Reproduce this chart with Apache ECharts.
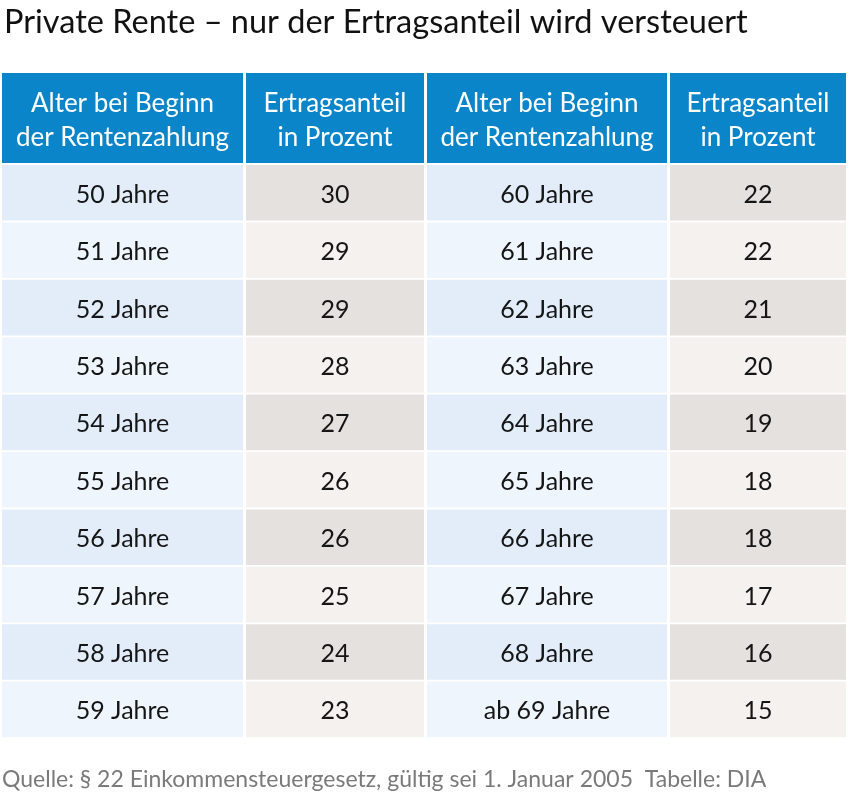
<!DOCTYPE html>
<html><head><meta charset="utf-8">
<script src="https://cdn.jsdelivr.net/npm/echarts@6/dist/echarts.min.js"></script>
<style>html,body{margin:0;padding:0;background:#fff}#c{width:850px;height:795px}</style>
</head><body><div id="c"></div>
<script>
// ---- data ----
const headerAge = 'Alter bei Beginn\nder Rentenzahlung';
const headerShare = 'Ertragsanteil\nin Prozent';
const agesLeft = ['50 Jahre','51 Jahre','52 Jahre','53 Jahre','54 Jahre','55 Jahre','56 Jahre','57 Jahre','58 Jahre','59 Jahre'];
const shareLeft = [30,29,29,28,27,26,26,25,24,23];
const agesRight = ['60 Jahre','61 Jahre','62 Jahre','63 Jahre','64 Jahre','65 Jahre','66 Jahre','67 Jahre','68 Jahre','ab 69 Jahre'];
const shareRight = [22,22,21,20,19,18,18,17,16,15];
const titleText = 'Private Rente – nur der Ertragsanteil wird versteuert';
const sourceText = 'Quelle: § 22 Einkommensteuergesetz, gültig sei 1. Januar 2005  Tabelle: DIA';

// ---- layout ----
const colSpans = [[2,243],[246,424],[427,667],[670,846]];
const headerSpan = [73,163];
const rowTop0 = 165, rowStep = 57.4, rowH = 55.6;
const FONT = 'Lato, "Open Sans", sans-serif';

const cells = [];
const columns = [
  {h: headerAge, v: agesLeft, kind: 'age'},
  {h: headerShare, v: shareLeft, kind: 'share'},
  {h: headerAge, v: agesRight, kind: 'age'},
  {h: headerShare, v: shareRight, kind: 'share'}
];
columns.forEach((c, ci) => {
  cells.push([ci, -1, c.h, 'header']);
  c.v.forEach((val, ri) => cells.push([ci, ri, String(val), c.kind]));
});

function fillFor(kind, row) {
  if (kind === 'header') return '#0b85c9';
  const odd = row % 2 === 0;
  if (kind === 'age') return odd ? '#e2edf9' : '#eff5fc';
  return odd ? '#e5e1de' : '#f4f1ee';
}

const chart = echarts.init(document.getElementById('c'), null, {renderer: 'canvas'});
chart.setOption({
  animation: false,
  backgroundColor: '#fff',
  title: [{
    text: titleText, left: 4, top: 6, padding: 0,
    textStyle: {fontFamily: FONT, fontSize: 32.5, fontWeight: 'normal', color: '#111'}
  }, {
    text: sourceText, left: 2, top: 768, padding: 0,
    textStyle: {fontFamily: FONT, fontSize: 23, fontWeight: 'normal', color: '#7a7a7a'}
  }],
  grid: {left: 0, right: 0, top: 0, bottom: 0},
  xAxis: {type: 'value', min: 0, max: 850, show: false},
  yAxis: {type: 'value', min: 0, max: 795, inverse: true, show: false},
  series: [{
    type: 'custom',
    coordinateSystem: 'cartesian2d',
    data: cells,
    renderItem: function (params, api) {
      const ci = api.value(0), ri = api.value(1);
      const item = cells[params.dataIndex];
      const kind = item[3], text = item[2];
      const span = colSpans[ci];
      let y0, y1;
      if (ri < 0) { y0 = headerSpan[0]; y1 = headerSpan[1]; }
      else { y0 = rowTop0 + ri * rowStep; y1 = y0 + rowH; }
      const p0 = api.coord([span[0], y0]);
      const p1 = api.coord([span[1], y1]);
      const isH = kind === 'header';
      return {
        type: 'group',
        children: [{
          type: 'rect',
          shape: {x: p0[0], y: p0[1], width: p1[0] - p0[0], height: p1[1] - p0[1]},
          style: {fill: fillFor(kind, ri)}
        }, {
          type: 'text',
          x: (p0[0] + p1[0]) / 2, y: (p0[1] + p1[1]) / 2 + (isH ? 3 : 2),
          style: {
            text: text, align: 'center', verticalAlign: 'middle',
            fontFamily: FONT, fontSize: isH ? 26 : 25, lineHeight: 34,
            fill: isH ? '#ffffff' : '#151515'
          }
        }]
      };
    }
  }]
});
</script></body></html>
